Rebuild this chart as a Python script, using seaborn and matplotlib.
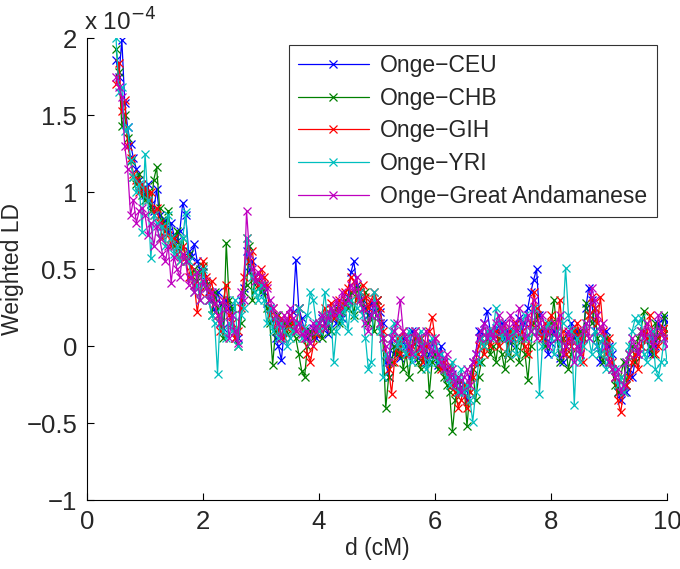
import numpy as np
import pandas as pd
import matplotlib
matplotlib.use("Agg")
import matplotlib.pyplot as plt
import seaborn as sns

# genetic distance grid (cM), 0.5 to 10 in 0.05 steps
d_cm = np.linspace(0.5, 10.0, 191)

# weighted LD values, in units of 1e-4
ceu = [1.86, 1.75, 1.99, 1.58, 1.42, 1.31, 1.22, 1.15, 1.08, 1.02,
       0.98, 1.05, 0.92, 0.88, 1.02, 0.85, 0.78, 0.82, 0.74, 0.80,
       0.72, 0.68, 0.75, 0.93, 0.85, 0.62, 0.58, 0.66, 0.55, 0.50,
       0.48, 0.42, 0.36, 0.30, 0.22, 0.35, 0.28, 0.12, 0.30, 0.25,
       0.20, 0.10, 0.05, 0.30, 0.38, 0.62, 0.48, 0.55, 0.45, 0.42,
       0.40, 0.35, 0.28, 0.25, 0.18, 0.05, 0.00, -0.09, 0.10, 0.15,
       0.20, 0.22, 0.56, 0.25, 0.18, 0.10, 0.05, 0.08, 0.12, 0.05,
       0.10, 0.18, 0.15, 0.08, 0.20, 0.22, 0.15, 0.25, 0.18, 0.28,
       0.32, 0.48, 0.55, 0.40, 0.35, 0.30, 0.25, 0.20, 0.28, 0.22,
       0.30, 0.22, 0.15, -0.10, -0.20, 0.05, -0.05, 0.02, -0.08, 0.05,
       0.00, -0.05, 0.10, 0.02, -0.08, 0.05, 0.00, -0.10, -0.05, 0.02,
       -0.05, -0.12, 0.00, -0.10, -0.15, -0.20, -0.18, -0.25, -0.30, -0.22,
       -0.28, -0.35, -0.20, -0.10, -0.05, 0.10, 0.05, 0.15, 0.23, 0.10,
       0.05, 0.12, 0.08, 0.15, 0.05, 0.10, 0.02, 0.08, 0.12, 0.18,
       0.10, 0.15, 0.25, 0.35, 0.43, 0.50, 0.20, 0.10, 0.05, -0.05,
       0.02, 0.10, 0.05, -0.08, -0.10, 0.00, 0.08, 0.15, 0.05, 0.10,
       -0.05, 0.05, 0.25, 0.38, 0.30, 0.10, 0.00, -0.10, 0.05, 0.10,
       0.00, -0.05, -0.20, -0.30, -0.35, -0.25, -0.30, -0.15, -0.20, -0.10,
       -0.05, 0.00, 0.10, 0.05, -0.05, 0.05, 0.00, 0.15, 0.10, 0.18,
       0.16]

chb = [1.93, 1.78, 1.43, 1.50, 1.35, 1.20, 1.10, 1.05, 1.12, 0.98,
       0.95, 1.00, 0.88, 1.08, 1.16, 0.90, 0.82, 0.75, 0.88, 0.70,
       0.65, 0.75, 0.62, 0.70, 0.55, 0.60, 0.45, 0.50, 0.42, 0.48,
       0.52, 0.40, 0.30, 0.20, 0.35, 0.25, 0.15, 0.05, 0.67, 0.30,
       0.25, 0.05, 0.00, 0.15, 0.35, 0.40, 0.65, 0.30, 0.45, 0.38,
       0.35, 0.40, 0.25, 0.15, -0.12, 0.10, 0.20, 0.05, 0.15, 0.08,
       0.15, 0.10, 0.05, -0.05, -0.16, -0.20, 0.00, 0.10, 0.05, 0.08,
       0.15, 0.05, 0.12, 0.20, 0.10, 0.18, 0.25, 0.15, 0.22, 0.30,
       0.25, 0.35, 0.20, 0.38, 0.30, 0.25, 0.35, 0.15, 0.20, 0.10,
       0.30, 0.15, 0.05, -0.40, -0.20, -0.10, 0.00, -0.05, 0.05, -0.15,
       -0.05, -0.20, 0.00, 0.05, -0.10, -0.15, -0.05, 0.00, -0.31, -0.10,
       -0.05, -0.15, -0.10, -0.20, -0.25, -0.30, -0.55, -0.35, -0.20, -0.30,
       -0.25, -0.52, -0.30, -0.15, -0.35, -0.20, -0.10, 0.00, 0.05, -0.05,
       0.00, -0.10, 0.05, -0.05, -0.15, 0.05, -0.08, 0.10, 0.00, -0.10,
       0.05, -0.05, -0.22, 0.00, 0.15, 0.20, 0.10, 0.05, 0.00, 0.10,
       0.15, 0.30, 0.10, -0.10, 0.05, 0.00, -0.15, -0.05, 0.10, 0.00,
       0.10, 0.05, 0.28, 0.20, 0.15, 0.25, 0.05, -0.05, -0.10, 0.05,
       -0.10, -0.15, -0.25, -0.30, -0.20, -0.10, -0.25, -0.05, 0.00, -0.10,
       0.05, 0.10, 0.23, 0.05, 0.00, -0.05, 0.15, 0.05, 0.10, 0.20,
       0.10]

gih = [1.70, 1.84, 1.53, 1.60, 1.30, 1.22, 1.12, 1.08, 1.00, 1.05,
       1.02, 0.95, 1.00, 0.85, 0.90, 0.80, 0.70, 0.78, 0.72, 0.65,
       0.70, 0.60, 0.55, 0.65, 0.58, 0.45, 0.52, 0.40, 0.22, 0.35,
       0.55, 0.45, 0.35, 0.42, 0.28, 0.20, 0.10, 0.30, 0.40, 0.20,
       0.15, 0.05, 0.10, 0.25, 0.45, 0.70, 0.55, 0.62, 0.45, 0.40,
       0.50, 0.45, 0.40, 0.20, 0.25, 0.15, 0.10, 0.18, 0.05, 0.12,
       0.20, 0.15, 0.10, 0.25, 0.12, 0.05, -0.05, -0.10, 0.00, 0.08,
       0.12, 0.20, 0.25, 0.15, 0.28, 0.18, 0.22, 0.30, 0.25, 0.35,
       0.38, 0.45, 0.42, 0.30, 0.35, 0.40, 0.32, 0.25, 0.30, 0.35,
       0.30, 0.25, 0.10, -0.05, -0.15, -0.31, -0.10, 0.05, -0.05, 0.10,
       0.05, -0.05, 0.00, 0.10, -0.05, 0.05, -0.10, 0.00, 0.10, 0.19,
       0.05, -0.05, -0.15, -0.10, -0.20, -0.12, -0.25, -0.30, -0.40, -0.35,
       -0.25, -0.40, -0.30, -0.20, -0.10, 0.00, 0.05, -0.05, 0.10, 0.00,
       0.05, 0.10, 0.00, 0.08, 0.15, -0.05, 0.10, 0.05, 0.15, 0.05,
       0.10, 0.00, -0.05, 0.15, 0.35, 0.25, 0.10, 0.05, 0.15, 0.08,
       0.20, 0.15, 0.05, 0.30, 0.10, -0.05, 0.05, 0.00, 0.10, 0.15,
       0.05, -0.10, 0.10, 0.20, 0.32, 0.25, 0.15, 0.32, 0.10, -0.05,
       0.05, -0.10, -0.20, -0.35, -0.43, -0.30, -0.25, -0.20, -0.10, -0.05,
       -0.15, 0.00, 0.10, 0.05, 0.20, 0.10, -0.05, 0.00, 0.08, 0.12,
       0.05]

yri = [2.00, 1.65, 1.68, 1.40, 1.42, 1.21, 1.10, 1.00, 1.05, 0.74,
       1.25, 0.95, 0.57, 0.85, 0.80, 0.70, 0.78, 0.65, 0.85, 0.70,
       0.60, 0.65, 0.55, 0.70, 0.87, 0.55, 0.45, 0.35, 0.40, 0.30,
       0.50, 0.38, 0.30, 0.20, 0.15, -0.18, 0.25, 0.10, 0.05, 0.15,
       0.10, 0.30, 0.00, 0.20, 0.25, 0.70, 0.60, 0.45, 0.35, 0.30,
       0.40, 0.30, 0.15, 0.25, 0.10, 0.20, 0.05, 0.15, 0.10, 0.00,
       0.05, 0.10, 0.15, 0.25, 0.05, 0.12, 0.20, 0.35, 0.30, 0.15,
       0.10, 0.20, 0.35, 0.15, 0.25, -0.10, 0.10, 0.20, 0.15, 0.25,
       0.10, 0.30, 0.18, 0.25, 0.35, 0.20, 0.05, -0.15, -0.10, 0.35,
       0.20, 0.10, -0.20, -0.05, -0.10, 0.10, 0.15, 0.00, 0.05, 0.00,
       -0.05, 0.10, -0.10, -0.05, 0.05, 0.10, 0.00, -0.15, -0.10, 0.05,
       0.00, -0.10, -0.05, -0.15, -0.20, -0.25, -0.10, -0.20, -0.30, -0.15,
       -0.30, -0.25, -0.35, -0.49, -0.30, -0.10, 0.05, 0.00, 0.10, 0.05,
       0.10, 0.25, 0.15, 0.05, 0.10, -0.05, 0.05, 0.10, -0.05, 0.05,
       0.15, 0.20, 0.05, 0.10, 0.25, 0.10, -0.31, 0.00, 0.10, 0.15,
       0.05, -0.05, 0.10, 0.00, 0.15, 0.51, 0.20, 0.10, -0.38, 0.05,
       -0.10, 0.00, 0.15, 0.05, -0.05, 0.10, 0.00, -0.05, 0.05, -0.15,
       -0.05, 0.00, -0.15, -0.25, -0.20, -0.30, -0.10, 0.00, 0.10, 0.18,
       0.15, 0.18, -0.05, -0.10, 0.05, 0.10, -0.15, -0.20, -0.10, 0.05,
       -0.10]

great_andamanese = [1.75, 1.68, 1.62, 1.30, 1.15, 0.85, 0.95, 0.80, 0.88, 0.90,
       0.85, 0.72, 0.80, 0.65, 0.78, 0.70, 0.60, 0.55, 0.65, 0.41,
       0.58, 0.50, 0.45, 0.60, 0.55, 0.40, 0.45, 0.35, 0.48, 0.30,
       0.42, 0.38, 0.30, 0.35, 0.28, 0.20, 0.15, 0.30, 0.25, 0.05,
       0.20, 0.10, 0.02, 0.35, 0.30, 0.88, 0.60, 0.50, 0.42, 0.48,
       0.45, 0.40, 0.38, 0.30, 0.25, 0.20, 0.15, 0.05, 0.20, 0.15,
       0.25, 0.18, 0.10, 0.15, 0.08, 0.05, 0.10, 0.02, 0.15, 0.10,
       0.15, 0.20, 0.12, 0.18, 0.25, 0.20, 0.30, 0.22, 0.35, 0.28,
       0.30, 0.40, 0.35, 0.45, 0.30, 0.25, 0.15, 0.10, 0.20, 0.28,
       0.20, 0.15, 0.05, 0.00, -0.10, 0.05, 0.10, 0.15, 0.30, 0.10,
       0.05, 0.00, -0.05, 0.10, 0.05, 0.00, -0.05, 0.10, 0.00, -0.05,
       0.05, -0.05, -0.10, -0.15, -0.05, -0.20, -0.15, -0.25, -0.20, -0.30,
       -0.20, -0.15, -0.25, -0.10, -0.05, 0.05, 0.10, 0.15, 0.05, 0.10,
       0.05, 0.15, 0.20, 0.10, 0.15, 0.05, 0.20, 0.15, 0.10, 0.25,
       0.15, 0.05, 0.20, 0.10, 0.30, 0.05, 0.15, 0.20, 0.10, 0.00,
       0.10, 0.15, 0.05, 0.20, -0.05, 0.00, 0.10, 0.05, -0.10, 0.00,
       -0.05, 0.10, 0.15, 0.05, 0.38, 0.30, 0.20, 0.10, 0.15, 0.00,
       -0.10, -0.15, -0.20, -0.15, -0.30, -0.25, -0.10, -0.05, 0.05, 0.00,
       -0.05, 0.10, 0.05, 0.15, 0.10, 0.00, 0.05, 0.20, 0.10, 0.05,
       0.00]

series_names = ["Onge\u2212CEU", "Onge\u2212CHB", "Onge\u2212GIH", "Onge\u2212YRI",
                "Onge\u2212Great Andamanese"]
series_values = [ceu, chb, gih, yri, great_andamanese]
colors = ["#0000ff", "#008000", "#ff0000", "#00bfbf", "#bf00bf"]

sns.set_style("ticks")
plt.rcParams["font.family"] = ["Liberation Sans", "DejaVu Sans"]

fig = plt.figure(figsize=(6.8, 5.69), dpi=100)
ax = fig.add_axes([0.128, 0.121, 0.853, 0.812])

for name, vals, c in zip(series_names, series_values, colors):
    sns.lineplot(x=d_cm, y=vals, ax=ax, color=c, linewidth=0.9, marker="x",
                 markersize=6, mec=c, mew=0.9, label=name)

ax.set_xlim(0, 10)
ax.set_ylim(-1, 2)
ax.set_xticks([0, 2, 4, 6, 8, 10])
ax.set_yticks([-1, -0.5, 0, 0.5, 1, 1.5, 2])
ax.set_yticklabels(["\u22121", "\u22120.5", "0", "0.5", "1", "1.5", "2"])
ax.tick_params(direction="in", length=5, labelsize=18.5, color="black",
               width=0.8, left=True, bottom=True, pad=7)
sns.despine(ax=ax)
for side in ["left", "bottom"]:
    ax.spines[side].set_color("black")
    ax.spines[side].set_linewidth(0.8)

ax.set_xlabel("d (cM)", fontsize=16.5, labelpad=2)
ax.set_ylabel("Weighted LD", fontsize=16.5, labelpad=2)
ax.text(-0.005, 1.005, "x 10$^{-4}$", transform=ax.transAxes, fontsize=17.5,
        ha="left", va="bottom")

leg = ax.legend(loc="upper right", bbox_to_anchor=(0.982, 0.985), fontsize=16.5,
                frameon=True, fancybox=False, edgecolor="black",
                handlelength=3.1, handletextpad=0.5, labelspacing=0.42,
                borderpad=0.4, borderaxespad=0.0)
leg.get_frame().set_linewidth(0.8)

fig.savefig("out.png", dpi=100)
